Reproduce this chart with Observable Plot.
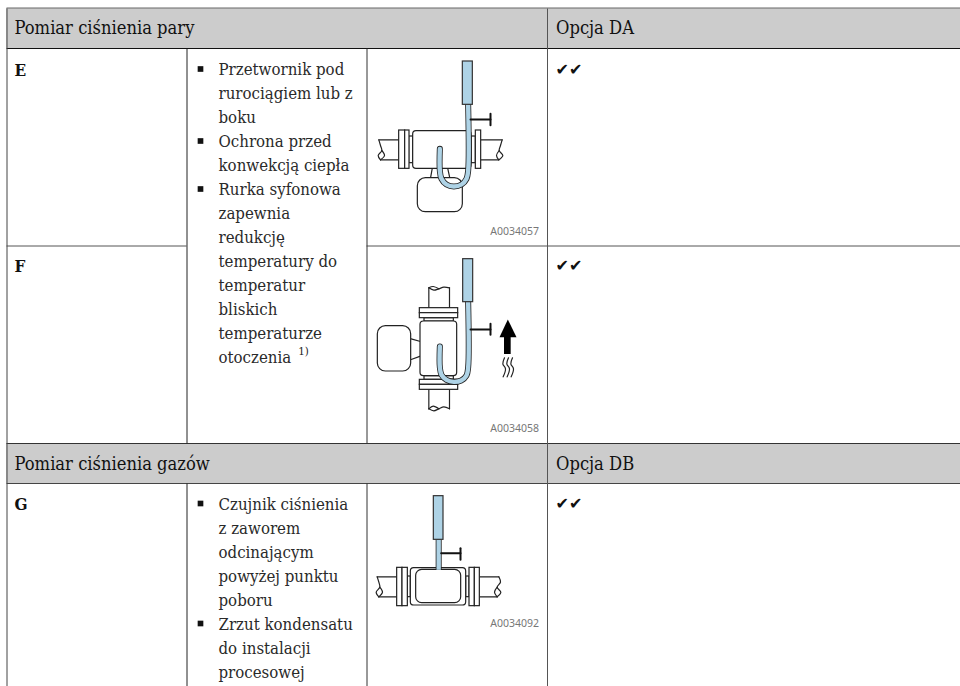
<!DOCTYPE html>
<html><head><meta charset="utf-8">
<script src="https://cdn.jsdelivr.net/npm/d3@7"></script>
<script src="https://cdn.jsdelivr.net/npm/@observablehq/plot@0.6"></script>
<style>html,body{margin:0;padding:0;background:#fff}svg{display:block}</style>
</head><body><div id="chart"></div>
<script>
// ---- table content
const headerBands = [[6,8,960,48],[6,443,960,483]];
const sectionTitles = ["Pomiar ciśnienia pary","Pomiar ciśnienia gazów"];
const sectionTitleRows = [33.3,469];
const optionTitles = ["Opcja DA","Opcja DB"];
const rowLetters = ["E","F","G"];
const rowLetterBase = [75,271,509];
const checkRows = [74,270,508.5];
const notes1 = ["Przetwornik pod","rurociągiem lub z","boku","Ochrona przed","konwekcją ciepła","Rurka syfonowa","zapewnia","redukcję","temperatury do","temperatur","bliskich","temperaturze","otoczenia"];
const notes2 = ["Czujnik ciśnienia","z zaworem","odcinającym","powyżej punktu","poboru","Zrzut kondensatu","do instalacji","procesowej"];
const bulletLines1 = [0,3,5];
const bulletLines2 = [0,5];
const drawingCodes = ["A0034057","A0034058","A0034092"];
const codeBase = [234,431,626.5];
// table rules: [x1,y1,x2,y2,colour]
const gridLines = [
  [6,7.5,960,7.5,"#666"],[6,48,960,48,"#111"],[6,443,960,443,"#333"],[6,483,960,483,"#444"],
  [6,245.5,186,245.5,"#555"],[366,245.5,960,245.5,"#555"],
  [6.5,8,6.5,686,"#444"],[186.5,48,186.5,443,"#222"],[186.5,483,186.5,686,"#222"],
  [366.5,48,366.5,443,"#333"],[366.5,483,366.5,686,"#333"],[547,8,547,686,"#555"]
];

// ---- drawings, in drawing units (3 units = 1 table cell unit)
const originE = [360,40], originF = [360,235], originG = [360,480];
const boxesE = [[172,413,307,515,24],[146,288,158,368,0],[333,288,346,368,0],[158,272,333,385,10],[116,270,134,385,0],[134,270,147,385,0],[346,270,362,385,0]];
const linesE = [[[210,413],[215,385]],[[268,413],[262,385]],[[116,298],[55,298]],[[116,358],[60,358]],[[362,298],[425,298]],[[362,358],[415,358]]];
const wavesE = [[[55,298],[60,315],[64,330],[53,345],[60,358]],[[64,330],[72,345],[60,358]],[[425,298],[420,315],[416,330],[427,345],[415,358]],[[416,330],[408,345],[415,358]]];
const sensorE = [307,63,337,193], tubeE = [[323,193],[323,390],[318,415],[303,432],[280,438],[258,432],[243,415],[238,390],[238,325]];
const tapE = [[[330,237],[390,237]],[[390,220],[390,254]]];

const boxesF = [[52,272,152,408,24],[192,248,280,258,0],[192,422,280,433,0],[180,258,290,422,10],[178,218,293,233,0],[178,233,293,248,0],[178,433,293,448,0],[178,448,293,463,0]];
const linesF = [[[152,310],[180,318]],[[152,372],[180,362]],[[205,218],[205,157]],[[267,218],[267,157]],[[205,463],[205,520]],[[267,463],[267,520]]];
const wavesF = [[[205,157],[220,164],[235,160],[250,155],[267,157]],[[205,157],[218,153],[235,160]],[[205,520],[220,526],[235,520],[250,514],[267,520]],[[205,520],[218,512],[235,520]]];
const sensorF = [308,71,338,200], tubeF = [[323,200],[323,395],[318,420],[302,435],[280,439],[258,433],[243,418],[238,395],[238,333]];
const tapF = [[[330,282],[390,282]],[[390,265],[390,298]]];
const arrowHead = [[442,252],[468,305],[417,305]], arrowShaft = [432,305,452,357];
const squiggles = [[[432,367],[427,385],[435,400],[428,424]],[[444,367],[439,385],[447,400],[440,424]],[[456,367],[451,385],[459,400],[452,424]]];

const boxesG = [[142,288,151,350,0],[317,288,327,350,0],[151,263,317,375,10],[167,268,302,368,18],[110,262,126,377,0],[126,262,142,377,0],[327,262,343,377,0],[343,262,358,377,0]];
const linesG = [[[110,289],[50,289]],[[110,349],[55,349]],[[358,289],[415,289]],[[358,349],[410,349]]];
const wavesG = [[[50,289],[55,305],[58,320],[47,335],[55,349]],[[58,320],[66,335],[55,349]],[[415,289],[420,305],[410,320],[421,335],[410,349]],[[410,320],[402,335],[410,349]]];
const sensorG = [220,47,249,178], tubeG = [[234.5,178],[234.5,268]];
const tapG = [[[242,218],[300,218]],[[300,203],[300,238]]];

// ---- helpers: drawing units -> table coordinates
const place = (o,[a,b]) => ({x:o[0]+a/3,y:o[1]+b/3});
const boxRows = (o,bs) => bs.map(b => ({x1:o[0]+b[0]/3,y1:o[1]+b[1]/3,x2:o[0]+b[2]/3,y2:o[1]+b[3]/3,r:(b[4]||0)/3}));
const pathRows = (o,ls,tag) => ls.flatMap((l,i) => l.map(p => ({...place(o,p),id:tag+i})));

const INK = "#222", BLUE = "#aed3e6";
const body = "'DejaVu Serif Condensed','DejaVu Serif',serif";

function boxMarks(rows){
  // each corner radius gets its own rect so rounded bodies stay rounded
  return d3.groups(rows,d=>d.r).map(([r,rs]) => Plot.rect(rs,{x1:"x1",x2:"x2",y1:"y1",y2:"y2",rx:r,fill:"#fff",stroke:INK,strokeWidth:1.2}));
}
function drawing(o,boxes,lines,waves,sensor,tube,tap){
  const smooth = tube.length>2 ? "catmull-rom" : "linear";
  return [
    Plot.line(pathRows(o,lines,"l"),{x:"x",y:"y",z:"id",stroke:INK,strokeWidth:1.2}),
    Plot.line(pathRows(o,waves,"w"),{x:"x",y:"y",z:"id",stroke:INK,strokeWidth:1.2,curve:"catmull-rom"}),
    ...boxMarks(boxRows(o,boxes)),
    Plot.line(tube.map(p=>place(o,p)),{x:"x",y:"y",stroke:INK,strokeWidth:6,curve:smooth,strokeLinecap:tube.length>2?"round":"butt"}),
    Plot.line(tube.map(p=>place(o,p)),{x:"x",y:"y",stroke:BLUE,strokeWidth:4.4,curve:smooth,strokeLinecap:tube.length>2?"round":"butt"}),
    Plot.rect(boxRows(o,[sensor]),{x1:"x1",x2:"x2",y1:"y1",y2:"y2",fill:BLUE,stroke:"#333",strokeWidth:1.2}),
    Plot.line(pathRows(o,tap,"t"),{x:"x",y:"y",z:"id",stroke:"#111",strokeWidth:2})
  ];
}
const textRows = (lines,start) => lines.map((t,i)=>({t,x:218,y:start+24*i}));
const bulletRows = (idx,start) => idx.map(i=>({x:200,y:start+24*i-6}));

const chart = Plot.plot({
  width:960,height:686,margin:0,
  x:{domain:[0,960],range:[0,960],axis:null},
  y:{domain:[0,686],range:[0,686],axis:null},
  marks:[
    Plot.rect(headerBands,{x1:d=>d[0],y1:d=>d[1],x2:d=>d[2],y2:d=>d[3],fill:"#cccccc"}),
    ...drawing(originE,boxesE,linesE,wavesE,sensorE,tubeE,tapE),
    ...drawing(originF,boxesF,linesF,wavesF,sensorF,tubeF,tapF),
    ...drawing(originG,boxesG,linesG,wavesG,sensorG,tubeG,tapG),
    Plot.rect(boxRows(originF,[arrowShaft]),{x1:"x1",x2:"x2",y1:"y1",y2:"y2",fill:"#000"}),
    Plot.line(arrowHead.map(p=>place(originF,p)),{x:"x",y:"y",fill:"#000",stroke:"none"}),
    Plot.line(pathRows(originF,squiggles,"s"),{x:"x",y:"y",z:"id",stroke:"#222",strokeWidth:1.2,curve:"catmull-rom"}),
    Plot.link(gridLines,{x1:d=>d[0],y1:d=>d[1],x2:d=>d[2],y2:d=>d[3],stroke:d=>d[4],strokeWidth:1}),
    Plot.text(sectionTitles,{x:14,y:(d,i)=>sectionTitleRows[i],text:d=>d,textAnchor:"start",lineAnchor:"bottom",fontFamily:body,fontSize:18.2,fill:"#111"}),
    Plot.text(optionTitles,{x:555.5,y:(d,i)=>sectionTitleRows[i],text:d=>d,textAnchor:"start",lineAnchor:"bottom",fontFamily:body,fontSize:18.2,fill:"#111"}),
    Plot.text(rowLetters,{x:14,y:(d,i)=>rowLetterBase[i],text:d=>d,textAnchor:"start",lineAnchor:"bottom",fontFamily:body,fontWeight:"bold",fontSize:17,fill:"#111"}),
    Plot.text(checkRows,{x:555,y:d=>d,text:()=>"✔✔",textAnchor:"start",lineAnchor:"bottom",fontFamily:"'DejaVu Sans'",fontSize:16,fill:"#111"}),
    Plot.text([...textRows(notes1,74.5),...textRows(notes2,509)],{x:"x",y:"y",text:"t",textAnchor:"start",lineAnchor:"bottom",fontFamily:body,fontSize:16.7,fill:"#2a2a2a"}),
    Plot.text(["1)"],{x:297.7,y:354.5,text:d=>d,textAnchor:"start",lineAnchor:"bottom",fontFamily:body,fontSize:11.5,fill:"#222"}),
    Plot.dot([...bulletRows(bulletLines1,74.5),...bulletRows(bulletLines2,509)],{x:"x",y:"y",symbol:"square",r:3.2,fill:"#111"}),
    Plot.text(drawingCodes,{x:538.5,y:(d,i)=>codeBase[i],text:d=>d,textAnchor:"end",lineAnchor:"bottom",fontFamily:"'Noto Sans'",fontSize:10.5,fill:"#777"})
  ]
});
document.getElementById("chart").append(chart);
</script>
</body></html>
